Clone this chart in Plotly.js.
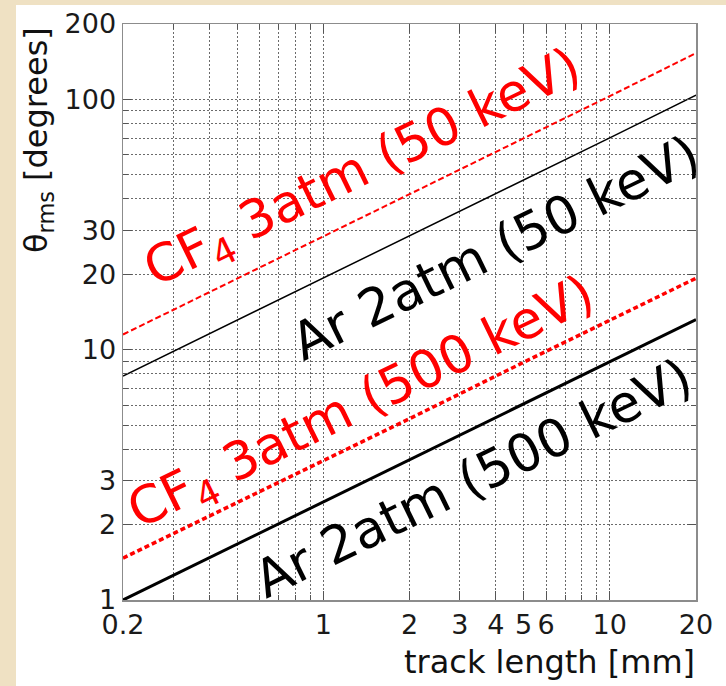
<!DOCTYPE html>
<html>
<head>
<meta charset="utf-8">
<script src="https://cdn.plot.ly/plotly-3.0.1.min.js"></script>
<style>
  html, body { margin: 0; padding: 0; width: 726px; height: 686px; overflow: hidden; background: #efe1c3; }
  #chart { position: absolute; left: 16px; top: 5px; width: 710px; height: 681px; background: #ffffff; }
</style>
</head>
<body>
<div id="chart"></div>
<script>
// ---- data ----
const trackLength = [0.2, 1, 2, 5, 10, 20];            // mm
const cf4_50keV   = [11.5, 28.3, 41.7, 69.8, 103, 153]; // degrees
const ar_50keV    = [7.85, 19.3, 28.5, 47.6, 70.2, 104];
const cf4_500keV  = [1.47, 3.6, 5.3, 8.9, 13.1, 19.3];
const ar_500keV   = [1.0, 2.46, 3.63, 6.07, 8.94, 13.2];

const seriesNames = ['CF<sub>4</sub> 3atm (50 keV)', 'Ar 2atm (50 keV)',
                     'CF<sub>4</sub> 3atm (500 keV)', 'Ar 2atm (500 keV)'];

const xTickVals   = [0.2, 1, 2, 3, 4, 5, 6, 10, 20];
const xTickText   = ['0.2', '1', '2', '3', '4', '5', '6', '10', '20'];
const xMinorVals  = [0.3, 0.4, 0.5, 0.6, 0.7, 0.8, 0.9, 7, 8, 9];
const yTickVals   = [1, 2, 3, 10, 20, 30, 100, 200];
const yTickText   = ['1', '2', '3', '10', '20', '30', '100', '200'];
const yMinorVals  = [4, 5, 6, 7, 8, 9, 40, 50, 60, 70, 80, 90];

// ---- traces ----
const traces = [
  { x: trackLength, y: cf4_50keV, mode: 'lines', line: { color: '#ff0000', width: 2, dash: '6px,3px' } },
  { x: trackLength, y: ar_50keV, mode: 'lines', line: { color: '#000000', width: 1.5 } },
  { x: trackLength, y: cf4_500keV, mode: 'lines', line: { color: '#ff0000', width: 3.5, dash: '5px,3px' } },
  { x: trackLength, y: ar_500keV, mode: 'lines', line: { color: '#000000', width: 3 } }
].map(t => Object.assign(t, { type: 'scatter', hoverinfo: 'skip', showlegend: false }));

const tickFont = { family: 'DejaVu Sans', size: 27, color: '#1a1a1a' };
const gridCommon = { gridcolor: '#6a6a6a', griddash: '2px,2px', gridwidth: 1 };

function px2paperX(px) { return (px - 123) / 573; }
function px2paperY(py) { return (600 - py) / 576; }

const labelFont = { family: 'DejaVu Sans', size: 52 };
const labelPos = [[364, 170, '#ff0000'], [495, 248, '#000000'], [362, 405, '#ff0000'], [473, 478, '#000000']];

const annotations = seriesNames.map((name, i) => ({
  text: name, xref: 'paper', yref: 'paper',
  x: px2paperX(labelPos[i][0]), y: px2paperY(labelPos[i][1]),
  xanchor: 'center', yanchor: 'middle', showarrow: false, textangle: -26,
  font: Object.assign({}, labelFont, { color: labelPos[i][2] })
}));

annotations.push({
  text: 'θ<sub>rms</sub> [degrees]', xref: 'paper', yref: 'paper',
  x: px2paperX(38), y: px2paperY(140), xanchor: 'center', yanchor: 'middle',
  showarrow: false, textangle: -90, font: { family: 'DejaVu Sans', size: 32, color: '#111' }
});
annotations.push({
  text: 'track length [mm]', xref: 'paper', yref: 'paper',
  x: px2paperX(549), y: px2paperY(662), xanchor: 'center', yanchor: 'middle',
  showarrow: false, font: { family: 'DejaVu Sans', size: 32, color: '#111' }
});

const layout = {
  width: 710, height: 681,
  margin: { l: 107, r: 30, t: 19, b: 86, pad: 0 },
  paper_bgcolor: '#ffffff', plot_bgcolor: '#ffffff',
  showlegend: false,
  xaxis: Object.assign({
    type: 'log', range: [Math.log10(0.2), Math.log10(20)],
    tickmode: 'array', tickvals: xTickVals, ticktext: xTickText,
    ticks: 'inside', ticklen: 9, tickwidth: 1, tickcolor: '#555',
    showline: true, linecolor: '#8c8c8c', linewidth: 1.5, mirror: 'ticks',
    showgrid: true, tickfont: tickFont, zeroline: false,
    minor: Object.assign({ tickmode: 'array', tickvals: xMinorVals, ticks: 'inside', ticklen: 5, tickcolor: '#555', showgrid: true }, gridCommon)
  }, gridCommon),
  yaxis: Object.assign({
    type: 'log', range: [0, Math.log10(200)],
    tickmode: 'array', tickvals: yTickVals, ticktext: yTickText,
    ticks: 'inside', ticklen: 9, tickwidth: 1, tickcolor: '#555',
    showline: true, linecolor: '#8c8c8c', linewidth: 1.5, mirror: 'ticks',
    showgrid: true, tickfont: tickFont, zeroline: false,
    minor: Object.assign({ tickmode: 'array', tickvals: yMinorVals, ticks: 'inside', ticklen: 5, tickcolor: '#555', showgrid: true }, gridCommon)
  }, gridCommon),
  annotations: annotations
};

Plotly.newPlot('chart', traces, layout, { staticPlot: true, displayModeBar: false });
</script>
</body>
</html>
